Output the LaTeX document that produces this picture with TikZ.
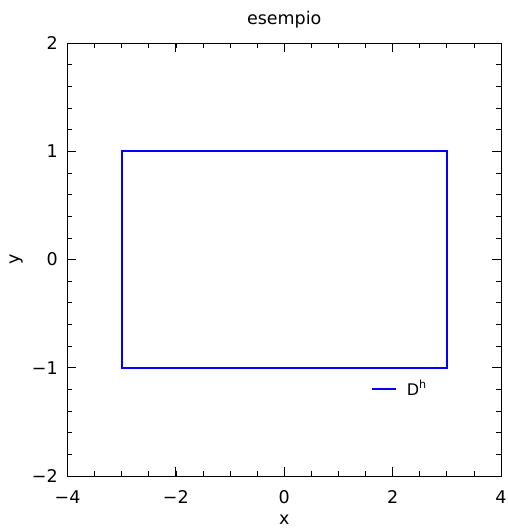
\documentclass[tikz,border=0pt]{standalone}
\usepackage{fontspec}
\setmainfont{DejaVu Sans}
\definecolor{CurveClr}{RGB}{0,0,255}

\begin{document}
\begin{tikzpicture}[x=54.19pt,y=108.25pt,
  font=\fontsize{17.5}{21}\selectfont,
  spine/.style={line width=0.9pt,color=black},
  curve/.style={color=CurveClr,line width=1.8pt},
  majortick/.style={line width=0.9pt},
  minortick/.style={line width=0.7pt},
  ticklabel/.style={inner sep=0pt}]
\useasboundingbox (-284.25pt,-268.5pt) rectangle (223.75pt,259.5pt);

\coordinate (SW) at (-4,-2);
\coordinate (NE) at (4,2);

\coordinate (P1) at (-3,-1);
\coordinate (P2) at (3,-1);
\coordinate (P3) at (3,1);
\coordinate (P4) at (-3,1);

% the curve D^h
\draw[curve] (P1) -- (P2) -- (P3) -- (P4) -- cycle;

% minor ticks
\foreach \x in {-3.5,-3,...,3.5}{
  \draw[minortick] (\x,-2) -- ++(0,5pt);
  \draw[minortick] (\x,2) -- ++(0,-5pt);
}
\foreach \y in {-1.8,-1.6,...,1.8}{
  \draw[minortick] (-4,\y) -- ++(5pt,0);
  \draw[minortick] (4,\y) -- ++(-5pt,0);
}

% major ticks and labels
\foreach \x/\lbl in {-4/−4,-2/−2,0/0,2/2,4/4}{
  \draw[majortick] (\x,-2) -- ++(0,9pt);
  \draw[majortick] (\x,2) -- ++(0,-9pt);
  \node[ticklabel,anchor=base,yshift=-27pt] (xl\x) at (\x,-2) {\lbl};
}
\foreach \y/\lbl in {-2/−2,-1/−1,0/0,1/1,2/2}{
  \draw[majortick] (-4,\y) -- ++(9pt,0);
  \draw[majortick] (4,\y) -- ++(-9pt,0);
  \node[ticklabel,anchor=base east,xshift=-9.5pt,yshift=-6.4pt] (yl\y) at (-4,\y) {\lbl};
}

\draw[spine] (SW) rectangle (NE);

\node[ticklabel,anchor=base,yshift=19pt] (title) at (0,2) {esempio};
\node[ticklabel,anchor=base,yshift=-48.5pt] (xlabel) at (0,-2) {x};
\node[ticklabel,rotate=90] (ylabel) at ([xshift=-50.8pt]-4,0) {y};

% legend
\coordinate (legA) at (1.614,-1.196);
\coordinate (legB) at (2.057,-1.196);
\draw[curve] (legA) -- (legB);
\node[ticklabel,anchor=base west,font=\fontsize{16}{19}\selectfont] (legtext) at (2.26,-1.252) {D\textsuperscript{h}};

\end{tikzpicture}
\end{document}
